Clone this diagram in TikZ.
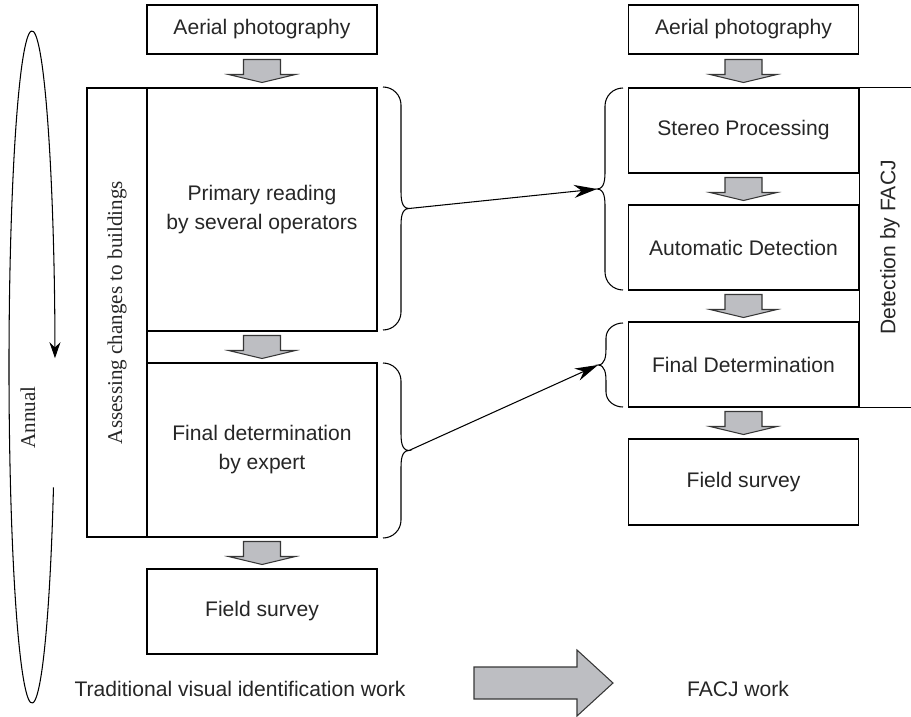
\documentclass[tikz,border=0pt]{standalone}
\usepackage{fontspec}
\setmainfont{Liberation Sans}
\newfontfamily\timesfont{Liberation Serif}
\usepackage{graphicx}
\usepackage{xcolor}
\usepackage{tikz}
\usetikzlibrary{calc}
\usetikzlibrary{arrows.meta}

\definecolor{blockgray}{RGB}{189,190,194}
\definecolor{edgegray}{RGB}{55,55,55}

\tikzset{
    every node/.style={font=\fontsize{12}{16.5}\selectfont, text=black!85},
    workbox/.style={draw, minimum width=4.6cm, align=center},
    blockarrow/.style={draw=edgegray, fill=blockgray, line join=miter},
    pics/downblock/.style={code={
        \draw[blockarrow] (-0.37,0.23) -- (0.37,0.23) -- (0.37,-0.07) -- (0.67,-0.07)
            -- (0,-0.23) -- (-0.67,-0.07) -- (-0.37,-0.07) -- cycle;}},
}

\begin{document}
\begin{tikzpicture}[line width=0.6pt]
    \useasboundingbox (0,0) rectangle (18.22,-14.32);

    % traditional work
    \node[workbox, minimum height=0.98cm] (aerL) at (5.24,-0.59) {Aerial photography};
    \node[workbox, minimum height=4.86cm] (primary) at (5.24,-4.19) {Primary reading\\by several operators};
    \node[workbox, minimum height=3.48cm] (finalL) at (5.24,-9.0) {Final determination\\by expert};
    \node[workbox, minimum height=1.7cm] (fieldL) at (5.24,-12.23) {Field survey};
    \node[draw, minimum width=1.2cm, minimum height=8.98cm] (assess) at (2.34,-6.25)
        {\rotatebox{90}{\timesfont Assessing changes to buildings}};

    % FACJ work
    \node[workbox, minimum height=0.98cm] (aerR) at (14.87,-0.59) {Aerial photography};
    \node[workbox, minimum height=1.7cm] (stereo) at (14.87,-2.61) {Stereo Processing};
    \node[workbox, minimum height=1.7cm] (auto) at (14.87,-4.95) {Automatic Detection};
    \node[workbox, minimum height=1.7cm] (finalR) at (14.87,-7.29) {Final Determination};
    \node[workbox, minimum height=1.72cm] (fieldR) at (14.87,-9.64) {Field survey};
    \node (detect) at (17.8,-4.95) {\rotatebox{90}{Detection by FACJ}};
    \coordinate (edgeR) at (18.22,0);
    \draw (stereo.north east) -- (stereo.north east -| edgeR);
    \draw (stereo.north east) -- (finalR.south east) -- (finalR.south east -| edgeR);

    % gray arrows
    \pic at ($(aerL.south)!0.5!(primary.north)$) {downblock};
    \pic at ($(primary.south)!0.5!(finalL.north)$) {downblock};
    \pic at ($(finalL.south)!0.5!(fieldL.north)$) {downblock};
    \pic at ($(aerR.south)!0.5!(stereo.north)$) {downblock};
    \pic at ($(stereo.south)!0.5!(auto.north)$) {downblock};
    \pic at ($(auto.south)!0.5!(finalR.north)$) {downblock};
    \pic at ($(finalR.south)!0.5!(fieldR.north)$) {downblock};

    % braces
    \draw (7.66,-1.74) to[out=0,in=90] (8.02,-2.1) -- (8.02,-3.81)
        to[out=-90,in=180] (8.18,-4.17) coordinate (pL1)
        to[out=180,in=90] (8.02,-4.53) -- (8.02,-6.24) to[out=-90,in=0] (7.66,-6.6);
    \draw (7.66,-7.26) to[out=0,in=90] (8.02,-7.62) -- (8.02,-8.65)
        to[out=-90,in=180] (8.18,-9.01) coordinate (pL2)
        to[out=180,in=90] (8.02,-9.37) -- (8.02,-10.4) to[out=-90,in=0] (7.66,-10.76);
    \draw (12.46,-1.76) to[out=180,in=90] (12.1,-2.12) -- (12.1,-3.42)
        to[out=-90,in=0] (11.94,-3.78) coordinate (pR1)
        to[out=0,in=90] (12.1,-4.14) -- (12.1,-5.44) to[out=-90,in=180] (12.46,-5.8);
    \draw (12.46,-6.46) to[out=180,in=90] (12.12,-6.76) -- (12.12,-6.98)
        to[out=-90,in=0] (11.96,-7.3) coordinate (pR2)
        to[out=0,in=90] (12.12,-7.62) -- (12.12,-7.84) to[out=-90,in=180] (12.46,-8.14);
    \draw[-{Stealth[length=0.46cm,width=0.26cm]}] (pL1) -- (pR1);
    \draw[-{Stealth[length=0.46cm,width=0.26cm]}] (pL2) -- (pR2);

    % yearly cycle
    \coordinate (yearc) at (0.64,-7.34);
    \draw[-{Stealth[length=0.32cm,width=0.22cm]}] (yearc) ++(-21:0.46 and 6.72)
        arc[start angle=-21, end angle=-358.5, x radius=0.46, y radius=6.72];
    \node (annual) at (0.56,-8.35) {\rotatebox{90}{\timesfont Annual}};

    % bottom
    \node (tradlbl) at (4.8,-13.78) {Traditional visual identification work};
    \node (facjlbl) at (14.76,-13.78) {FACJ work};
    \draw[blockarrow] (9.48,-13.34) -- (11.54,-13.34) -- (11.54,-13.0) -- (12.26,-13.66)
        -- (11.54,-14.32) -- (11.54,-13.98) -- (9.48,-13.98) -- cycle;
\end{tikzpicture}
\end{document}
